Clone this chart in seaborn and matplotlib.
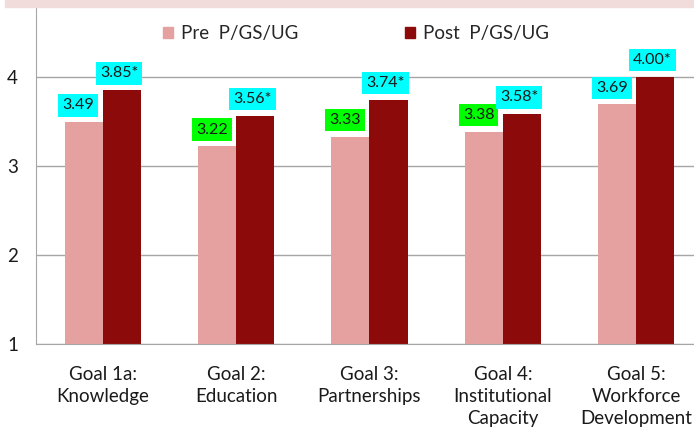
import pandas as pd
import seaborn as sns
import matplotlib.pyplot as plt
from matplotlib.patches import Rectangle

# Chart data
goals = ['Goal 1a:\nKnowledge', 'Goal 2:\nEducation', 'Goal 3:\nPartnerships',
         'Goal 4:\nInstitutional\nCapacity', 'Goal 5:\nWorkforce\nDevelopment']
pre = [3.49, 3.22, 3.33, 3.38, 3.69]
post = [3.85, 3.56, 3.74, 3.58, 4.00]
pre_labels = ['3.49', '3.22', '3.33', '3.38', '3.69']
post_labels = ['3.85*', '3.56*', '3.74*', '3.58*', '4.00*']
pre_box = ['#00ffff', '#00ff00', '#00ff00', '#00ff00', '#00ffff']
post_box = ['#00ffff', '#00ffff', '#00ffff', '#00ffff', '#00ffff']
series = ['Pre  P/GS/UG', 'Post  P/GS/UG']

df = pd.DataFrame({
    'Goal': goals * 2,
    'Score': pre + post,
    'Group': [series[0]] * len(goals) + [series[1]] * len(goals),
})

sns.set_style('white')
plt.rcParams['font.family'] = ['Lato', 'DejaVu Sans']

fig = plt.figure(figsize=(6.94, 4.34), dpi=100)
# pink band at the top
fig.patches.append(Rectangle((0.007, 0.984), 1.0, 0.02, transform=fig.transFigure,
                             color='#f2dcdb', zorder=0))
ax = fig.add_axes([0.0519, 0.2074, 0.961, 0.7776])

palette = {series[0]: '#e5a19f', series[1]: '#8c0a0a'}
sns.barplot(data=df, x='Goal', y='Score', hue='Group', palette=palette,
            width=0.57, saturation=1, ax=ax, edgecolor='none', legend=False)

ax.set_ylim(1, 4.79)
ax.set_xlim(-0.5, 4.5)
ax.set_yticks([1, 2, 3, 4])
ax.set_xticks(range(len(goals)))
ax.set_xticklabels(goals, fontsize=13.5, color='#1a1a1a', linespacing=1.35)
ax.set_xticks([i - 0.5 for i in range(len(goals) + 1)], minor=True)
ax.tick_params(axis='x', which='major', length=0, pad=16)
ax.tick_params(axis='x', which='minor', length=6, color='#a6a6a6', direction='out')
ax.tick_params(axis='y', length=5, color='#a6a6a6', labelsize=13.5, labelcolor='#1a1a1a', pad=8)
ax.set_xlabel('')
ax.set_ylabel('')
ax.yaxis.grid(True, color='#a6a6a6', linewidth=1)
ax.set_axisbelow(True)
for s in ['top', 'right']:
    ax.spines[s].set_visible(False)
for s in ['left', 'bottom']:
    ax.spines[s].set_color('#a6a6a6')

# data labels
off = 0.57 / 4
for i in range(len(goals)):
    for x, v, t, c in [(i - off - 0.04, pre[i], pre_labels[i], pre_box[i]),
                       (i + off - 0.02, post[i], post_labels[i], post_box[i])]:
        ax.text(x, v + 0.11, t, ha='center', va='bottom', fontsize=11.5, color='#1a1a1a',
                bbox=dict(boxstyle='square,pad=0.26', fc=c, ec='none'))

# legend
handles = [Rectangle((0, 0), 1, 1, color=palette[s]) for s in series]
fig.legend(handles, series, loc='center', bbox_to_anchor=(0.513, 0.922), ncol=2,
           frameon=False, fontsize=13.5, columnspacing=5.7, handlelength=0.55,
           handleheight=0.55, handletextpad=0.4)

fig.savefig('out.png', dpi=100)
